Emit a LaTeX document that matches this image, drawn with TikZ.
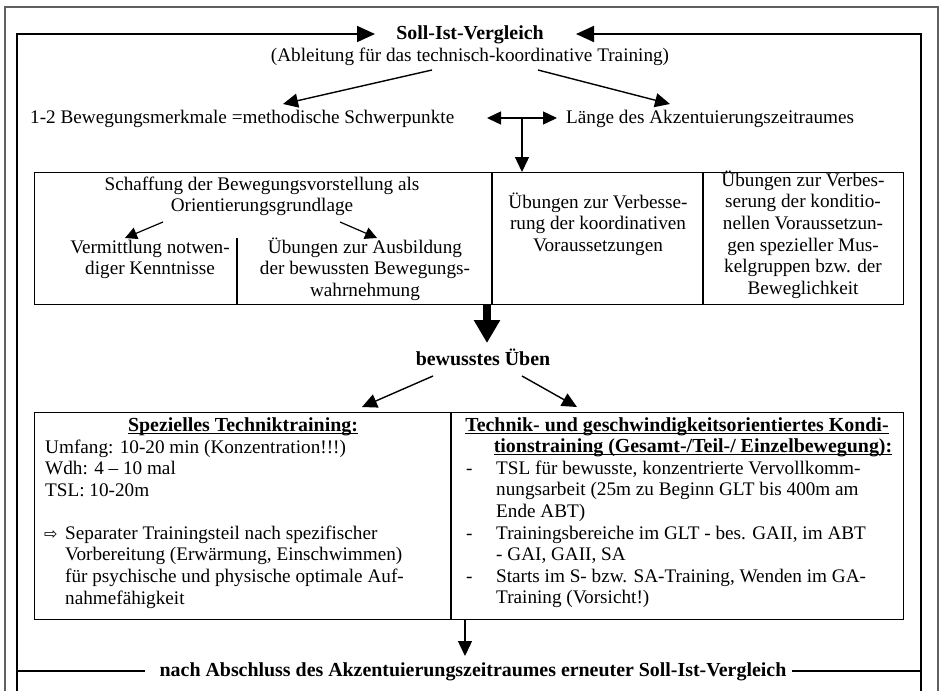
\documentclass[tikz,border=0pt]{standalone}
\usepackage{fontspec}
\setmainfont{Liberation Serif}
\newfontfamily\symfont{DejaVu Sans}
\usetikzlibrary{arrows.meta}
\newcommand\bodyfont{\fontsize{19.2}{21.6}\selectfont}
\newcommand\headfont{\fontsize{19.9}{21.6}\selectfont\bfseries}
\newcommand\topstrut{\rule{0pt}{18pt}}
% underline drawn close to the baseline, as a word processor does
\newcommand\ulbox[1]{\setbox0\hbox{#1}\rlap{\rule[-3pt]{\wd0}{1.3pt}}\box0}
\begin{document}
\begin{tikzpicture}[x=1pt,y=-1pt,
  every node/.style={inner sep=0pt,font=\bodyfont},
  bold/.style={font=\headfont},
  frameline/.style={line width=1.3pt},
  loopline/.style={line width=1.8pt},
  arr/.style={line width=1.4pt,-{Triangle[length=15pt,width=14pt]}},
  dbl/.style={line width=1.4pt,{Triangle[length=14pt,width=13pt]}-{Triangle[length=14pt,width=13pt]}},
  sarr/.style={line width=1.2pt,-{Triangle[length=12pt,width=12pt]}},
  bigarr/.style={line width=7.5pt,-{Triangle[length=23pt,width=25pt]}},
  cell/.style={anchor=north,align=center},
  lcell/.style={anchor=north west,align=left},
]
\useasboundingbox (0,0) rectangle (939,691);
\fill[white] (0,0) rectangle (939,691);

% outer page frame
\draw[gray!75!black,line width=1.1pt] (5,691) -- (5,7) -- (938,7) -- (938,691);

% ---------- head ----------
\node[bold,anchor=base] (soll) at (470,39) {Soll-Ist-Vergleich};
\node[anchor=base] (ableit) at (470,61) {(Ableitung für das technisch-koordinative Training)};
\node[anchor=base west] (merk) at (30,123) {1-2 Bewegungsmerkmale =methodische Schwerpunkte};
\node[anchor=base west] (laenge) at (566,123) {Länge des Akzentuierungszeitraumes};

\coordinate (aL0) at (432,70);
\coordinate (aL1) at (283,104);
\coordinate (aR0) at (538,70);
\coordinate (aR1) at (670,104);
\draw[arr] (aL0) -- (aL1);
\draw[arr] (aR0) -- (aR1);

\coordinate (dl) at (487,118);
\coordinate (dr) at (557,118);
\coordinate (dm) at (522,118);
\draw[dbl] (dl) -- (dr);

% ---------- upper table ----------
\node[draw,frameline,minimum width=869pt,minimum height=132pt,anchor=north west] (topbox) at (34,172) {};
\coordinate (v1) at (492,0);
\coordinate (v2) at (703,0);
\coordinate (v0) at (237,238);
\draw[frameline] (v1 |- topbox.north) -- (v1 |- topbox.south);
\draw[frameline] (v2 |- topbox.north) -- (v2 |- topbox.south);
\draw[frameline] (v0) -- (v0 |- topbox.south);
\draw[arr] (dm) -- (dm |- topbox.north);

\node[cell] (schaff) at (262,172) {\topstrut Schaffung der Bewegungsvorstellung als\\Orientierungsgrundlage};
\node[cell] (vermit) at (150,235) {\topstrut Vermittlung notwen-\\diger Kenntnisse};
\node[cell] (ausb) at (365,235) {\topstrut Übungen zur Ausbildung\\der bewussten Bewegungs-\\wahrnehmung};
\node[cell] (koord) at (598,190) {\topstrut Übungen zur Verbesse-\\rung der koordinativen\\Voraussetzungen};
\node[cell] (kond) at (803,168) {\topstrut Übungen zur Verbes-\\serung der konditio-\\nellen Voraussetzun-\\gen spezieller Mus-\\kelgruppen bzw. der\\Beweglichkeit};

\coordinate (sL0) at (163,222);
\coordinate (sL1) at (125,238);
\coordinate (sR0) at (340,222);
\coordinate (sR1) at (377,238);
\draw[sarr] (sL0) -- (sL1);
\draw[sarr] (sR0) -- (sR1);

% ---------- practice ----------
\coordinate (bg) at (487,0);
\coordinate (bgt) at (487,343);
\draw[bigarr] (bg |- topbox.south) -- (bgt);
\node[bold,anchor=base] (uben) at (483,365) {bewusstes Üben};

\coordinate (uL0) at (433,376);
\coordinate (uL1) at (362,407);
\coordinate (uR0) at (522,376);
\coordinate (uR1) at (577,407);
\draw[arr] (uL0) -- (uL1);
\draw[arr] (uR0) -- (uR1);

% ---------- lower table ----------
\node[draw,frameline,minimum width=869pt,minimum height=207pt,anchor=north west] (lowbox) at (34,412) {};
\coordinate (v3) at (451,0);
\draw[frameline] (v3 |- lowbox.north) -- (v3 |- lowbox.south);

\node[bold,anchor=base] (spezh) at (243,431) {\ulbox{Spezielles Techniktraining:}};
\node[lcell] (spezt) at (45,435) {\topstrut Umfang: 10-20 min (Konzentration!!!)\\Wdh: 4 – 10 mal\\TSL: 10-20m};
\node[anchor=base west,font=\symfont\fontsize{16}{18}\selectfont] (pfeil) at (44,539) {⇨};
\node[lcell] (separ) at (65,521) {\topstrut Separater Trainingsteil nach spezifischer\\Vorbereitung (Erwärmung, Einschwimmen)\\für psychische und physische optimale Auf-\\nahmefähigkeit};

\node[bold,anchor=base] (tech1) at (677,431) {\ulbox{Technik- und geschwindigkeitsorientiertes Kondi-}};
\node[bold,anchor=base] (tech2) at (693,452) {\ulbox{tionstraining (Gesamt-/Teil-/ Einzelbewegung):}};
\node[anchor=base west] (d1) at (466,474) {-};
\node[anchor=base west] (d2) at (466,539) {-};
\node[anchor=base west] (d3) at (466,582) {-};
\node[lcell] (i1) at (496,456) {\topstrut TSL für bewusste, konzentrierte Vervollkomm-\\nungsarbeit (25m zu Beginn GLT bis 400m am\\Ende ABT)};
\node[lcell] (i2) at (496,521) {\topstrut Trainingsbereiche im GLT - bes. GAII, im ABT\\- GAI, GAII, SA};
\node[lcell] (i3) at (496,564) {\topstrut Starts im S- bzw. SA-Training, Wenden im GA-\\Training (Vorsicht!)};

% ---------- renewed comparison and feedback loop ----------
\coordinate (da) at (465,0);
\coordinate (db) at (465,656);
\draw[arr] (da |- lowbox.south) -- (db);
\node[bold,anchor=base] (neu) at (473,676) {nach Abschluss des Akzentuierungszeitraumes erneuter Soll-Ist-Vergleich};

\coordinate (lb) at (17,691);
\coordinate (lt) at (17,34);
\coordinate (rb) at (921,691);
\coordinate (rt) at (921,34);
\coordinate (sollL) at (375,34);
\coordinate (sollR) at (576,34);
\draw[loopline] ([xshift=-14pt]neu.west) -- (neu.west -| lb);
\draw[loopline] ([xshift=5pt]neu.east) -- (neu.east -| rb);
\draw[loopline,-{Triangle[length=18pt,width=16pt]}] (lb) -- (lt) -- (sollL);
\draw[loopline,-{Triangle[length=18pt,width=16pt]}] (rb) -- (rt) -- (sollR);
\end{tikzpicture}
\end{document}
